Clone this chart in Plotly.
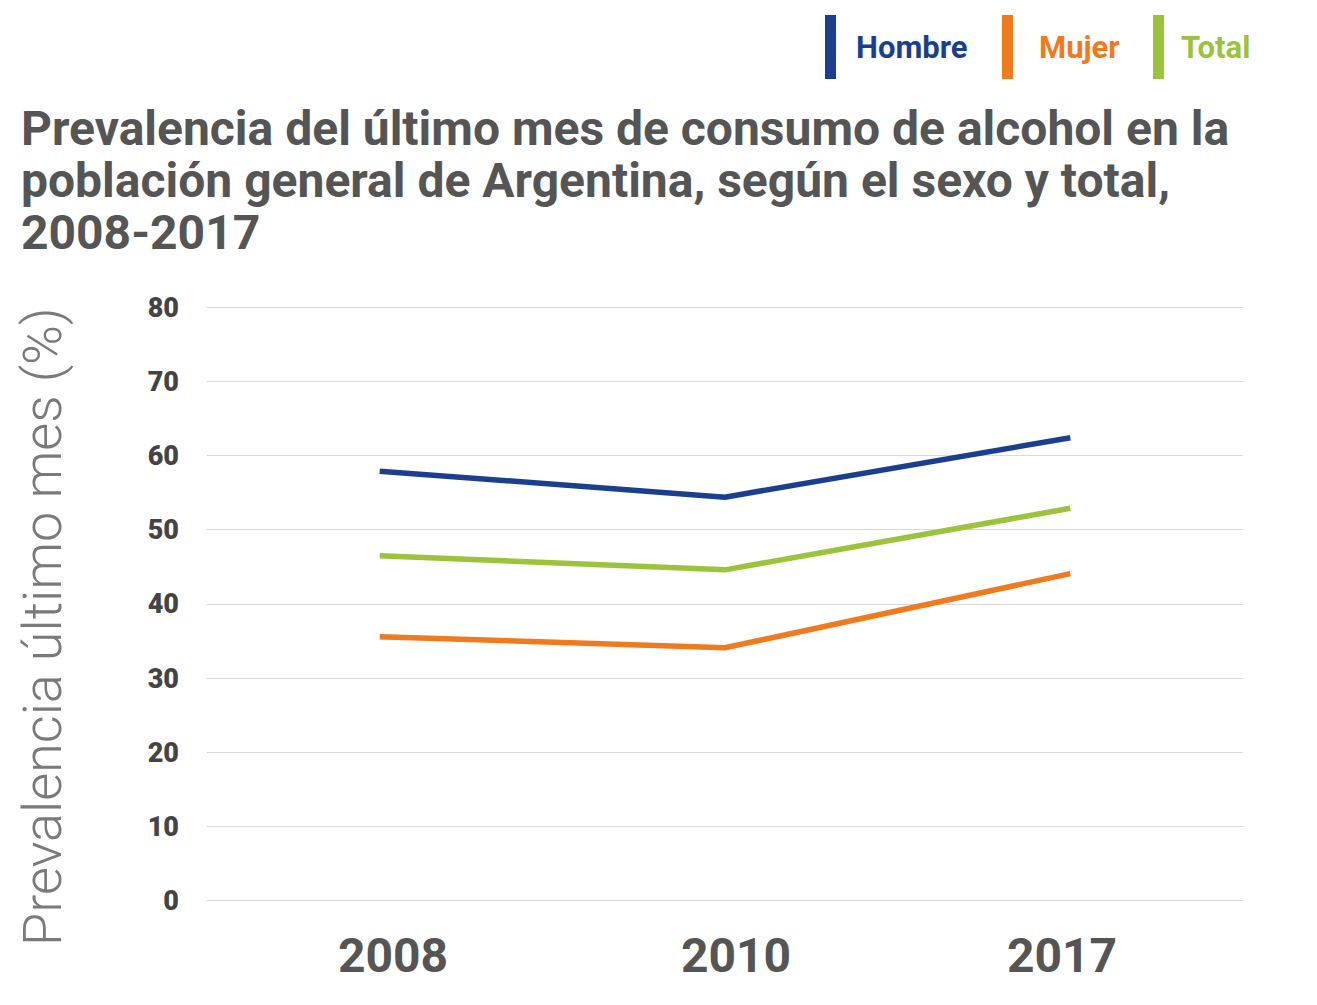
import plotly.graph_objects as go

years = ["2008", "2010", "2017"]
hombre = [57.9, 54.4, 62.4]
mujer = [35.6, 34.1, 44.1]
total = [46.5, 44.6, 52.9]
series_names = ["Hombre", "Mujer", "Total"]
colors = ["#1B3F8F", "#F07A1E", "#9BC33B"]
y_ticks = [0, 10, 20, 30, 40, 50, 60, 70, 80]
title_lines = ["Prevalencia del último mes de consumo de alcohol en la",
               "población general de Argentina, según el sexo y total,",
               "2008-2017"]
y_title = "Prevalencia último mes (%)"

OFF = 8  # page body margin
W, H = 1317 - OFF, 1005 - OFF
L, R, T, B = 207, 1243, 306, 902  # reference pixel coords of plot area
label_shift = [13, 11, -8]  # x tick labels sit slightly off the data points

def px(x):
    return (x - L) / (R - L)

def py(y):
    return (B - y) / (B - T)

fig = go.Figure()
for name, vals, col in zip(series_names, [hombre, mujer, total], colors):
    fig.add_trace(go.Scatter(x=years, y=vals, mode="lines", name=name,
                             line=dict(color=col, width=5.5), showlegend=False))

# Title, one annotation per line
for i, line in enumerate(title_lines):
    fig.add_annotation(
        text=line, xref="paper", yref="paper", x=px(19), y=py(129 + 52 * i),
        xanchor="left", yanchor="middle", align="left", showarrow=False,
        font=dict(family="Roboto", size=48, color="#555555", weight="bold"))

# Y axis title
fig.add_annotation(
    text=y_title, textangle=-90,
    xref="paper", yref="paper", x=px(42), y=py(627), xanchor="center", yanchor="middle",
    showarrow=False, font=dict(family="Roboto", size=54, color="#7a7a7a", weight=300))

# X category labels (category index positions on the x axis)
for idx, (yr, sh) in enumerate(zip(years, label_shift)):
    fig.add_annotation(text=yr, x=idx, xref="x", yref="paper", y=py(955),
                       xanchor="center", yanchor="middle", xshift=sh, showarrow=False,
                       font=dict(family="Roboto", size=48, color="#555555", weight="bold"))

# Legend: colored bars + labels
leg_bar_x = [825, 1002, 1153]
leg_txt_x = [854, 1037, 1179]
for name, col, bx, tx in zip(series_names, colors, leg_bar_x, leg_txt_x):
    fig.add_shape(type="rect", xref="paper", yref="paper",
                  x0=px(bx), x1=px(bx + 11), y0=py(79), y1=py(15),
                  fillcolor=col, line=dict(width=0))
    fig.add_annotation(text=name, xref="paper", yref="paper", x=px(tx), y=py(48),
                       xanchor="left", yanchor="middle", showarrow=False,
                       font=dict(family="Roboto", size=31, color=col, weight="bold"))

fig.update_layout(
    width=W, height=H,
    margin=dict(l=L - OFF, r=W - (R - OFF), t=T - OFF, b=H - (B - OFF)),
    plot_bgcolor="white", paper_bgcolor="white",
    xaxis=dict(type="category", range=[-0.5, 2.5], showgrid=False, zeroline=False,
               showline=False, ticks="", showticklabels=False),
    yaxis=dict(range=[-0.15, 80.15], tickvals=y_ticks, showgrid=True, gridcolor="#d9d9d9",
               gridwidth=1, zeroline=False, showline=False, ticks="",
               ticklabelstandoff=27,
               tickfont=dict(family="Roboto", size=27, color="#444444", weight=900)),
)

fig.write_html("out.html")
